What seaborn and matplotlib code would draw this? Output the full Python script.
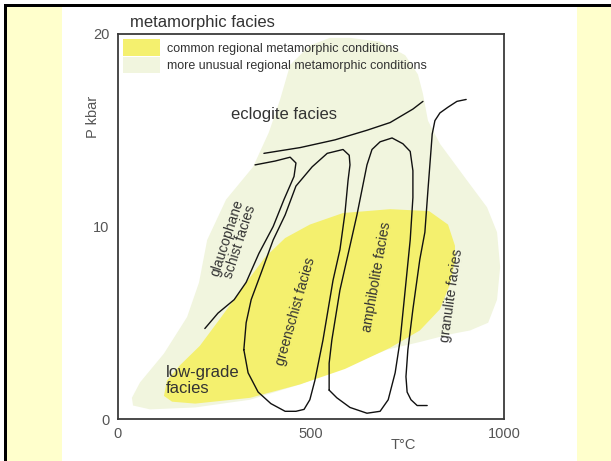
import pandas as pd
import matplotlib.pyplot as plt
from matplotlib.patches import Patch, Rectangle
import seaborn as sns

# outlines of the shaded fields, T (°C) and P (kbar)
unusual_T = [601, 679, 744, 777, 790, 803, 834, 904, 956, 982, 990, 982, 959, 912, 860, 782, 697, 575,
             472, 342, 200, 83, 39, 36, 57, 119, 179, 210, 231, 280, 350, 391, 420, 446, 497, 549]
unusual_P = [19.8, 19.6, 18.9, 17.9, 16.9, 15.5, 14.3, 12.4, 11.0, 9.7, 7.9, 6.2, 5.0, 4.6, 4.4, 4.0, 3.6, 2.6,
             1.8, 1.0, 0.6, 0.5, 0.7, 1.1, 1.9, 3.4, 5.3, 7.1, 9.3, 11.4, 13.1, 14.9, 16.6, 18.4, 19.4, 19.8]

common_T = [583, 705, 806, 855, 873, 873, 860, 834, 782, 705, 588, 472,
            342, 200, 140, 119, 127, 161, 212, 264, 329, 381, 433, 497]
common_P = [10.7, 10.9, 10.8, 10.1, 9.0, 8.2, 7.0, 5.7, 4.6, 3.7, 2.6, 1.8,
            1.1, 0.8, 0.9, 1.2, 2.0, 2.8, 3.8, 5.2, 7.0, 8.4, 9.4, 10.1]

# facies boundaries
eclogite_T = [378, 472, 562, 645, 705, 764, 790]
eclogite_P = [13.8, 14.1, 14.5, 15.0, 15.4, 16.1, 16.5]

glaucophane_T = [355, 407, 446, 461, 456, 430, 402, 365, 332, 301, 259, 225]
glaucophane_P = [13.2, 13.4, 13.6, 13.3, 12.6, 11.4, 10.0, 8.6, 7.1, 6.2, 5.5, 4.7]

greenschist_T = [326, 332, 345, 371, 402, 433, 461, 503, 542, 583, 599, 601, 596,
                 588, 575, 557, 531, 510, 497, 482, 461, 433, 396, 363, 337, 326]
greenschist_P = [3.6, 5.0, 6.2, 7.6, 9.3, 10.6, 12.1, 13.1, 13.8, 14.0, 13.7, 13.2, 12.4,
                 10.7, 8.8, 7.2, 4.1, 2.0, 1.0, 0.5, 0.4, 0.4, 0.8, 1.4, 2.4, 3.6]

amphibolite_T = [547, 547, 554, 575, 601, 619, 632, 645, 658, 679, 710, 738, 757,
                 764, 764, 757, 744, 731, 718, 700, 679, 645, 601, 567, 552, 547]
amphibolite_P = [1.5, 2.9, 4.1, 6.7, 9.0, 10.6, 11.9, 13.2, 14.0, 14.4, 14.6, 14.3, 13.9,
                 12.9, 11.5, 9.3, 6.7, 4.1, 2.4, 1.0, 0.4, 0.3, 0.6, 1.1, 1.4, 1.5]

granulite_T = [902, 878, 855, 834, 821, 814, 811, 803, 795, 782, 764, 751, 746, 749, 759, 775, 801]
granulite_P = [16.6, 16.5, 16.2, 15.9, 15.5, 14.8, 14.0, 11.9, 9.7, 8.3, 5.7, 3.6, 2.2, 1.4, 1.0, 0.7, 0.7]

legend_labels = ['common regional metamorphic conditions', 'more unusual regional metamorphic conditions']
x_ticks = [0, 500, 1000]
y_ticks = [0, 10, 20]

common_color = '#f4f06e'
unusual_color = '#f1f5de'
text_color = '#333333'

curves = {
    'eclogite': (eclogite_T, eclogite_P),
    'glaucophane': (glaucophane_T, glaucophane_P),
    'greenschist': (greenschist_T, greenschist_P),
    'amphibolite': (amphibolite_T, amphibolite_P),
    'granulite': (granulite_T, granulite_P),
}
lines = pd.concat([pd.DataFrame({'T': t, 'P': p, 'curve': name}) for name, (t, p) in curves.items()],
                  ignore_index=True)

sns.set_theme(style="white")
plt.rcParams['font.family'] = ['Liberation Sans', 'DejaVu Sans']

fig = plt.figure(figsize=(6.11, 4.61), dpi=100)
fig.patch.set_facecolor('white')
# slide background: black rule, pale yellow margin, white panel
fig.add_artist(Rectangle((4 / 611, 0), 1, 457 / 461, transform=fig.transFigure,
                         facecolor='black', edgecolor='none', zorder=-3))
fig.add_artist(Rectangle((7 / 611, 0), 1, 454 / 461, transform=fig.transFigure,
                         facecolor='#ffffcc', edgecolor='none', zorder=-2))
fig.add_artist(Rectangle((62 / 611, 0), 515 / 611, 454 / 461, transform=fig.transFigure,
                         facecolor='white', edgecolor='none', zorder=-1))

ax = fig.add_axes([118 / 611, 42 / 461, 386 / 611, 385 / 461])
ax.set_facecolor('white')

ax.fill(unusual_T, unusual_P, color=unusual_color, lw=0, zorder=1)
ax.fill(common_T, common_P, color=common_color, lw=0, zorder=2)

sns.lineplot(data=lines, x='T', y='P', units='curve', estimator=None, sort=False,
             color='#111111', lw=1.0, ax=ax, zorder=3)

# facies names
ax.text(430, 15.8, 'eclogite facies', fontsize=12, color=text_color, ha='center', va='center')
ax.text(299, 9.3, 'glaucophane\nschist facies', fontsize=10, color=text_color, rotation=72,
        ha='center', va='center', rotation_mode='anchor', multialignment='center', linespacing=1.0)
ax.text(459, 5.6, 'greenschist facies', fontsize=10, color=text_color, rotation=74,
        ha='center', va='center', rotation_mode='anchor')
ax.text(671, 7.4, 'amphibolite facies', fontsize=10, color=text_color, rotation=80,
        ha='center', va='center', rotation_mode='anchor')
ax.text(863, 6.4, 'granulite facies', fontsize=10, color=text_color, rotation=82,
        ha='center', va='center', rotation_mode='anchor')
ax.text(124, 2.0, 'low-grade\nfacies', fontsize=12, color=text_color, ha='left', va='center',
        linespacing=1.05)

ax.text(0.031, 1.019, 'metamorphic facies', transform=ax.transAxes, fontsize=12,
        color=text_color, va='baseline')

handles = [Patch(facecolor=common_color, edgecolor='none', label=legend_labels[0]),
           Patch(facecolor=unusual_color, edgecolor='none', label=legend_labels[1])]
leg = ax.legend(handles=handles, loc='upper left', bbox_to_anchor=(5 / 386, 0.987), frameon=False,
                fontsize=9, handlelength=2.95, handleheight=1.7, labelspacing=0.05,
                handletextpad=0.55, borderpad=0, borderaxespad=0)
for t in leg.get_texts():
    t.set_color(text_color)

ax.set_xlim(0, 1000)
ax.set_ylim(0, 20)
ax.set_xticks(x_ticks)
ax.set_yticks(y_ticks)
ax.tick_params(length=0, pad=6, labelsize=10.5, colors='#555555')
ax.set_xlabel('T°C', fontsize=10.5, color='#555555')
ax.set_ylabel('P kbar', fontsize=10.5, color='#555555')
ax.xaxis.set_label_coords(0.74, -0.05)
ax.yaxis.set_label_coords(-0.047, 0.784)
for s in ax.spines.values():
    s.set_color('#3a3a3a')
    s.set_linewidth(1.3)

fig.savefig('out.png', dpi=100)
